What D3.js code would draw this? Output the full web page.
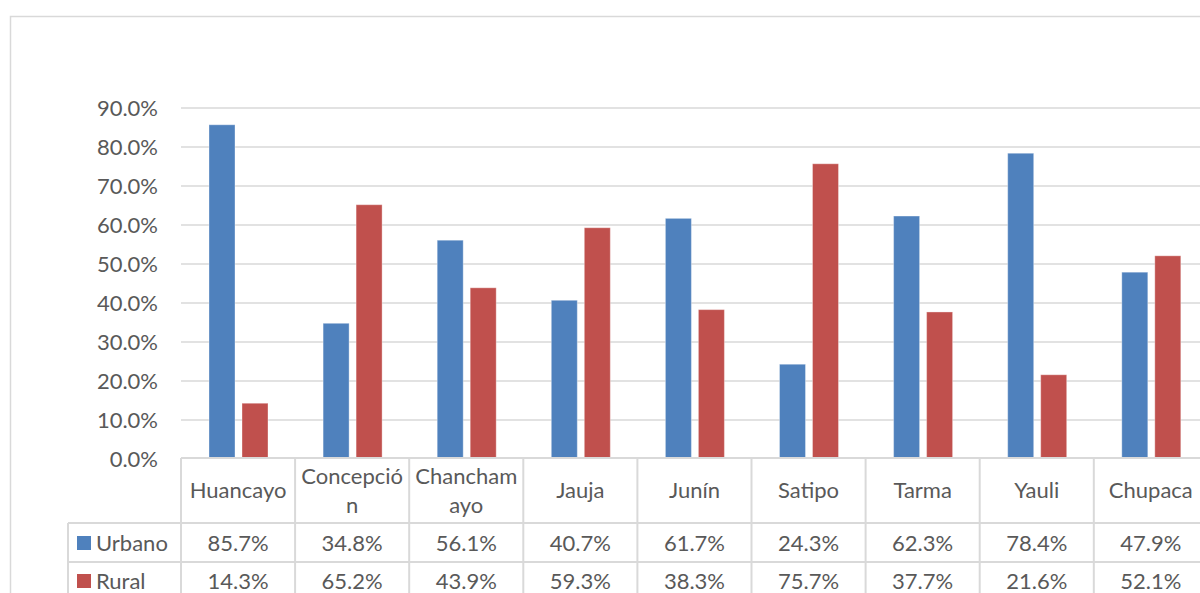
<!DOCTYPE html>
<html><head><meta charset="utf-8">
<script src="https://cdn.jsdelivr.net/npm/d3@7"></script>
<style>html,body{margin:0;padding:0;background:#fff;overflow:hidden}</style>
</head><body>
<svg id="c" width="1200" height="593"></svg>
<script>
const categories = ["Huancayo","Concepción","Chanchamayo","Jauja","Junín","Satipo","Tarma","Yauli","Chupaca"];
const categoryLines = [["Huancayo"],["Concepció","n"],["Chancham","ayo"],["Jauja"],["Junín"],["Satipo"],["Tarma"],["Yauli"],["Chupaca"]];
const seriesNames = ["Urbano","Rural"];
const urbano = [0.857,0.348,0.561,0.407,0.617,0.243,0.623,0.784,0.479];
const rural  = [0.143,0.652,0.439,0.593,0.383,0.757,0.377,0.216,0.521];
const yTicks = [0,0.1,0.2,0.3,0.4,0.5,0.6,0.7,0.8,0.9];
const colors = ["#4F81BD","#C0504D"];

const svg = d3.select("#c");
const font = "Lato, 'Open Sans', sans-serif";
const fs = 22;
const txt = "#595959";
const grid = "#D9D9D9";

// chart border
svg.append("rect").attr("x",10.5).attr("y",16.5).attr("width",1300).attr("height",700)
  .attr("fill","none").attr("stroke",grid).attr("stroke-width",1.5);

const x0 = 181, cw = 114.1;
const x = d3.scaleBand().domain(categories).range([x0, x0 + cw*categories.length]).padding(0);
const y = d3.scaleLinear().domain([0,0.9]).range([459,108]);
const xs = d3.scaleBand().domain(seriesNames).range([28, 87]).paddingInner(7/33).paddingOuter(0);

// gridlines
svg.append("g").selectAll("line").data(yTicks.filter(d=>d>0)).join("line")
  .attr("x1",x0).attr("x2",1200).attr("y1",d=>y(d)).attr("y2",d=>y(d))
  .attr("stroke",grid).attr("stroke-width",1.5);

// y axis
const yAxis = d3.axisLeft(y).tickValues(yTicks).tickFormat(d3.format(".1%")).tickSize(0).tickPadding(0);
const ga = svg.append("g").attr("transform","translate(158,0)").call(yAxis);
ga.select(".domain").remove();
ga.selectAll("text").attr("font-family",font).attr("font-size",fs).attr("fill",txt);

// bars
const data = [urbano, rural];
data.forEach((vals,si)=>{
  svg.append("g").selectAll("rect").data(vals).join("rect")
    .attr("x",(d,i)=>x(categories[i]) + xs(seriesNames[si]))
    .attr("width",xs.bandwidth())
    .attr("y",d=>y(d)).attr("height",d=>y(0)-y(d))
    .attr("fill",colors[si]).attr("stroke","#ffffff").attr("stroke-opacity",0.35).attr("stroke-width",1);
});

// data table
const tTop = 458, r1 = 523, r2 = 562, r3 = 601, leftT = 68;
const tg = svg.append("g").attr("stroke",grid).attr("stroke-width",2);
tg.append("line").attr("x1",x0).attr("x2",1210).attr("y1",tTop).attr("y2",tTop);
tg.append("line").attr("x1",leftT).attr("x2",1210).attr("y1",r1).attr("y2",r1);
tg.append("line").attr("x1",leftT).attr("x2",1210).attr("y1",r2).attr("y2",r2);
tg.append("line").attr("x1",leftT).attr("x2",leftT).attr("y1",r1).attr("y2",r3);
const vlines = categories.map(c=>x(c)).concat([x0+cw*categories.length]);
tg.selectAll(".v").data(vlines).join("line").attr("x1",d=>d).attr("x2",d=>d).attr("y1",tTop).attr("y2",r3);

// category labels
const cl = svg.append("g").attr("font-family",font).attr("font-size",fs).attr("fill",txt).attr("text-anchor","middle");
categoryLines.forEach((lines,i)=>{
  const cx = x(categories[i]) + x.bandwidth()/2;
  const n = lines.length;
  lines.forEach((l,j)=>{
    const cy = 490.5 + (j - (n-1)/2)*29;
    cl.append("text").attr("x",cx).attr("y",cy).attr("dy","0.35em").text(l);
  });
});

// value rows
[urbano, rural].forEach((vals,si)=>{
  const cy = si===0 ? 543.5 : 581.5;
  svg.append("g").attr("font-family",font).attr("font-size",fs).attr("fill",txt).attr("text-anchor","middle")
    .selectAll("text").data(vals).join("text")
    .attr("x",(d,i)=>x(categories[i]) + x.bandwidth()/2).attr("y",cy).attr("dy","0.35em")
    .text(d=>d3.format(".1%")(d));
  svg.append("rect").attr("x",77).attr("y",cy-7.5).attr("width",14).attr("height",14).attr("fill",colors[si]);
  svg.append("text").attr("x",96).attr("y",cy).attr("dy","0.35em").attr("font-family",font).attr("font-size",fs).attr("fill",txt).text(seriesNames[si]);
});
</script>
</body></html>
